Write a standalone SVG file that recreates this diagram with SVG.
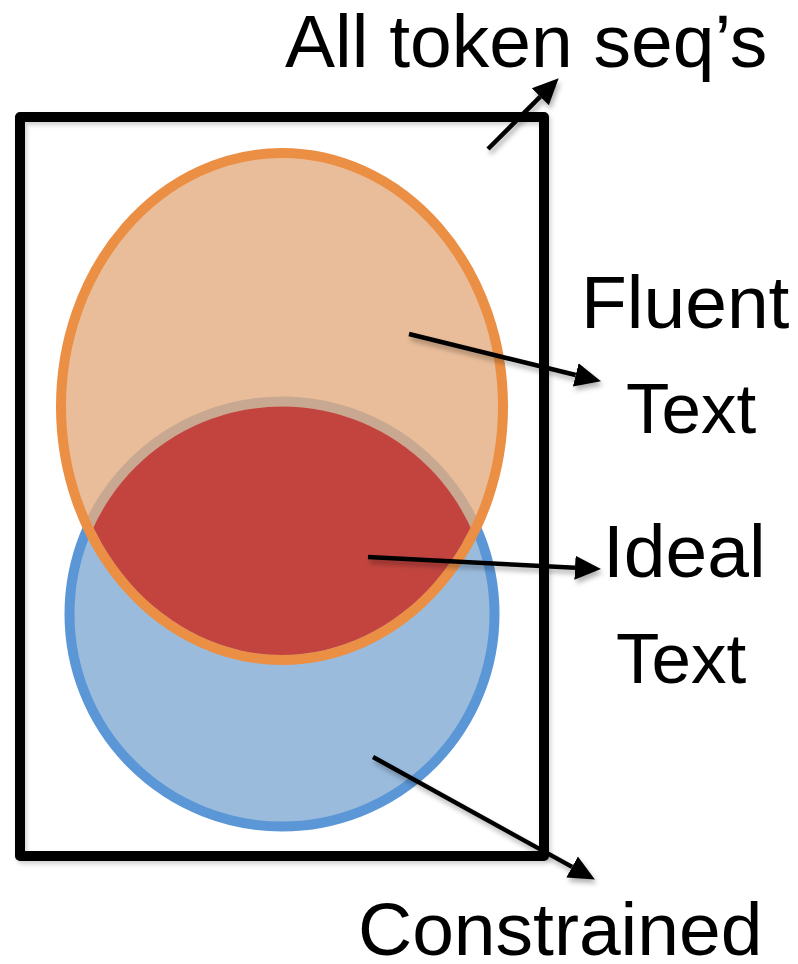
<svg xmlns="http://www.w3.org/2000/svg" width="798" height="964" viewBox="0 0 798 964">
  <style>
    .label { font-family: "Liberation Sans", Arial, Helvetica, sans-serif; fill: #000; }
    .big { font-size: 75px; }
    .mid { font-size: 71px; }
    .conn { stroke: #000; stroke-width: 4.5; fill: none; marker-end: url(#head); }
  </style>
  <defs>
    <marker id="head" viewBox="0 -13 26 26" markerWidth="26" markerHeight="26" refX="0" refY="0" orient="auto" markerUnits="userSpaceOnUse">
      <path d="M0,-12 L26,0 L0,12 Z" fill="#000"/>
    </marker>
    <filter id="shade" x="-10%" y="-10%" width="130%" height="130%">
      <feDropShadow dx="2" dy="4" stdDeviation="2.5" flood-color="#000" flood-opacity="0.3"/>
    </filter>
    <filter id="soft" x="-5%" y="-5%" width="115%" height="115%">
      <feDropShadow dx="2" dy="3" stdDeviation="2" flood-color="#000" flood-opacity="0.18"/>
    </filter>
    <!-- inner area of the "fluent" ellipse, used to cut the overlap region -->
    <clipPath id="fluentInner">
      <ellipse cx="282" cy="406.5" rx="216" ry="248.5"/>
    </clipPath>
  </defs>

  <rect width="798" height="964" fill="#fff"/>

  <!-- universe box -->
  <g id="all-seqs" filter="url(#soft)">
    <rect x="20" y="117" width="524" height="739" fill="none" stroke="#000" stroke-width="10" stroke-linejoin="round"/>
  </g>

  <!-- constrained set -->
  <g id="constrained">
    <circle cx="282" cy="614" r="212.5" fill="#9BBBDD" stroke="#5B97D6" stroke-width="10"/>
  </g>

  <!-- fluent set -->
  <g id="fluent">
    <ellipse cx="282" cy="406.5" rx="221" ry="253.5" fill="#E3AC80" fill-opacity="0.8" stroke="#EB8F45" stroke-width="10"/>
  </g>

  <!-- ideal = overlap of both sets -->
  <g id="ideal">
    <circle cx="282" cy="614" r="207.5" fill="#C3443F" clip-path="url(#fluentInner)"/>
  </g>

  <!-- labels -->
  <g id="labels">
    <text class="label big" x="285" y="67">All token seq’s</text>
    <text class="label big" x="581" y="328">Fluent</text>
    <text class="label mid" x="626" y="433">Text</text>
    <text class="label big" x="603" y="577">Ideal</text>
    <text class="label mid" x="616" y="683">Text</text>
    <text class="label big" x="358" y="955">Constrained</text>
  </g>

  <!-- connectors -->
  <g id="connectors" filter="url(#shade)">
    <line class="conn" x1="488" y1="149" x2="540.3" y2="96.7"/>
    <line class="conn" x1="409" y1="334" x2="575.7" y2="375"/>
    <line class="conn" x1="368" y1="557" x2="575" y2="567.7"/>
    <line class="conn" x1="373" y1="757" x2="572.1" y2="866.9"/>
  </g>
</svg>
